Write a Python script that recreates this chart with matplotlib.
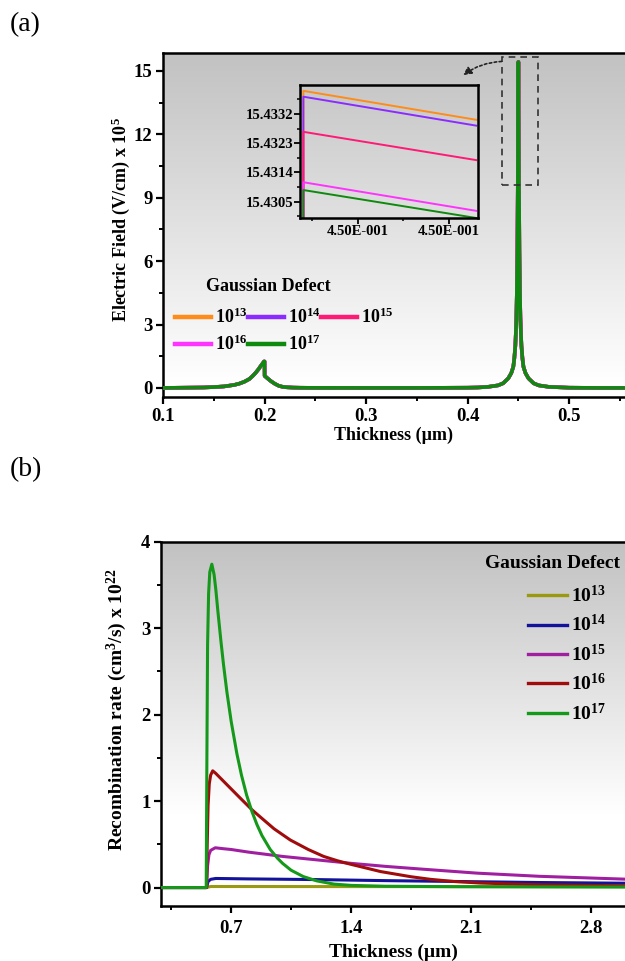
import numpy as np
import matplotlib
matplotlib.use("Agg")
import matplotlib.pyplot as plt
from matplotlib.colors import LinearSegmentedColormap
from matplotlib.patches import Rectangle
from matplotlib.ticker import MultipleLocator, FixedLocator, FuncFormatter

plt.rcParams['font.family'] = ['Liberation Serif', 'DejaVu Serif']
plt.rcParams['font.weight'] = 'bold'
plt.rcParams['mathtext.fontset'] = 'custom'
plt.rcParams['mathtext.rm'] = 'Liberation Serif'
plt.rcParams['mathtext.bf'] = 'Liberation Serif:bold'
plt.rcParams['mathtext.it'] = 'Liberation Serif:italic:bold'

# ---------------- data: panel (a) ----------------
defects = ['13', '14', '15', '16', '17']
colors_a = ['#ff8c1a', '#8c2bff', '#ff1a75', '#ff33ff', '#0e8a0e']

field_x = [0.100, 0.120, 0.140, 0.150, 0.160, 0.170, 0.175, 0.180, 0.185, 0.188,
           0.191, 0.194, 0.196, 0.198, 0.1995, 0.2000, 0.2001, 0.203, 0.206, 0.210,
           0.214, 0.218, 0.222, 0.228, 0.235, 0.250, 0.300, 0.350, 0.400, 0.410,
           0.420, 0.430, 0.435, 0.440, 0.443, 0.445, 0.446, 0.447, 0.4475, 0.448,
           0.4485, 0.449, 0.4495, 0.4500, 0.4505, 0.451, 0.4515, 0.452, 0.4525, 0.453,
           0.454, 0.455, 0.457, 0.460, 0.465, 0.470, 0.480, 0.500, 0.530, 0.555]
field_y = [0.00, 0.01, 0.02, 0.04, 0.07, 0.14, 0.20, 0.29, 0.42, 0.55,
           0.70, 0.88, 1.02, 1.15, 1.25, 1.25, 0.57, 0.45, 0.33, 0.20,
           0.10, 0.05, 0.03, 0.015, 0.008, 0.003, 0.00, 0.00, 0.01, 0.02,
           0.05, 0.12, 0.22, 0.45, 0.70, 1.00, 1.40, 2.00, 2.60, 3.30,
           4.50, 6.50, 10.0, 15.43, 10.0, 6.50, 4.50, 3.30, 2.60, 2.00,
           1.40, 1.00, 0.70, 0.45, 0.22, 0.12, 0.05, 0.01, 0.00, 0.00]

# inset (zoom near the peak)
inset_x = [0.4499994, 0.4499994, 0.4500013]
inset_start = [15.43391, 15.43373, 15.43265, 15.43110, 15.43086]
inset_end = [15.43302, 15.43284, 15.43178, 15.43022, 15.43000]
inset_floor = 15.4290
inset_xticks = [0.450000, 0.450001]
inset_yticks = [15.4305, 15.4314, 15.4323, 15.4332]

# ---------------- data: panel (b) ----------------
colors_b = ['#9a9a12', '#12129a', '#a01fa0', '#a00c0c', '#15991a']
rec_x = {
    '13': [0.29, 0.556, 0.580, 1.5, 3.0],
    '14': [0.29, 0.556, 0.565, 0.580, 0.610, 0.80, 1.20, 1.60, 2.10, 2.50, 3.0],
    '15': [0.29, 0.556, 0.562, 0.570, 0.580, 0.607, 0.650, 0.70, 0.80, 0.90, 1.00,
           1.20, 1.40, 1.60, 1.80, 2.14, 2.50, 3.0],
    '16': [0.29, 0.556, 0.560, 0.565, 0.572, 0.580, 0.592, 0.610, 0.650, 0.70, 0.75,
           0.821, 0.85, 0.95, 1.045, 1.15, 1.24, 1.32, 1.396, 1.50, 1.572, 1.75,
           1.864, 2.00, 2.157, 2.50, 3.0],
    '17': [0.29, 0.554, 0.558, 0.562, 0.568, 0.575, 0.587, 0.600, 0.610, 0.622, 0.640,
           0.655, 0.675, 0.700, 0.733, 0.760, 0.790, 0.821, 0.850, 0.880, 0.928, 0.970,
           1.00, 1.05, 1.121, 1.20, 1.30, 1.40, 1.60, 2.00, 2.50, 3.0],
}
rec_y = {
    '13': [0.0, 0.0, 0.012, 0.011, 0.010],
    '14': [0.0, 0.0, 0.07, 0.095, 0.105, 0.100, 0.092, 0.080, 0.068, 0.058, 0.050],
    '15': [0.0, 0.0, 0.25, 0.38, 0.43, 0.46, 0.45, 0.44, 0.41, 0.385, 0.36,
           0.32, 0.28, 0.245, 0.215, 0.166, 0.13, 0.097],
    '16': [0.0, 0.0, 0.50, 0.95, 1.20, 1.30, 1.35, 1.32, 1.24, 1.14, 1.04,
           0.90, 0.85, 0.68, 0.55, 0.44, 0.36, 0.31, 0.27, 0.22, 0.185, 0.125,
           0.095, 0.07, 0.052, 0.032, 0.02],
    '17': [0.0, 0.0, 1.50, 2.80, 3.40, 3.65, 3.74, 3.62, 3.45, 3.20, 2.85,
           2.58, 2.26, 1.92, 1.55, 1.30, 1.07, 0.88, 0.73, 0.60, 0.44, 0.34,
           0.28, 0.20, 0.127, 0.077, 0.04, 0.025, 0.015, 0.010, 0.008, 0.006],
}
legend_title = 'Gaussian Defect'


def labels_for(ds):
    return [r'10$^{\mathbf{%s}}$' % d for d in ds]


def add_gradient(ax, white_frac, top_gray=0.76):
    cmap = LinearSegmentedColormap.from_list('g', [(1, 1, 1), (top_gray, top_gray, top_gray)])
    t = np.linspace(0, 1, 512)
    v = np.clip((t - white_frac) / (1 - white_frac), 0, 1)
    ax.imshow(v[:, None], cmap=cmap, vmin=0, vmax=1, aspect='auto', origin='lower',
              extent=[0, 1, 0, 1], transform=ax.transAxes, zorder=0,
              interpolation='bilinear')


def style_axes(ax, size=13.5, xpad=2.5):
    for s in ['left', 'bottom', 'top', 'right']:
        ax.spines[s].set_linewidth(1.8)
    ax.spines['right'].set_visible(False)
    ax.tick_params(which='major', direction='out', length=5, width=1.6,
                   labelsize=size, pad=2.5)
    ax.tick_params(axis='x', which='major', pad=xpad)
    ax.tick_params(which='minor', direction='out', length=3, width=1.4)
    ax.tick_params(top=False, right=False)
    for lab in ax.get_xticklabels() + ax.get_yticklabels():
        lab.set_fontweight('bold')


W, H = 625, 961
fig = plt.figure(figsize=(W / 100, H / 100), dpi=100)

# ================= panel (a) =================
axa = fig.add_axes([163 / W, 1 - 397 / H, 1 - 163 / W, (397 - 53) / H])
axa.set_facecolor('white')
add_gradient(axa, 0.04)
for c, d in zip(colors_a, defects):
    axa.plot(field_x, field_y, color=c, lw=2.6, label=labels_for([d])[0], zorder=3)
axa.set_xlim(0.1, 0.555)
axa.set_ylim(-0.43, 15.85)
axa.xaxis.set_major_locator(MultipleLocator(0.1))
axa.xaxis.set_minor_locator(MultipleLocator(0.05))
axa.yaxis.set_major_locator(MultipleLocator(3))
axa.yaxis.set_minor_locator(MultipleLocator(1.5))
axa.xaxis.set_major_formatter(FuncFormatter(lambda v, p: f'{v:.1f}'))
axa.yaxis.set_major_formatter(FuncFormatter(lambda v, p: f'{v:.0f}'))
style_axes(axa, xpad=3)
axa.set_xlabel('Thickness (µm)', fontsize=13, fontweight='bold', labelpad=1)
axa.set_ylabel(r'Electric Field (V/cm) x 10$^{\mathbf{5}}$', fontsize=13,
               fontweight='bold')
axa.yaxis.set_label_coords(-0.068, 0.517)

# legend (a), entries ordered so that rows read 13,14,15 / 16,17
fig.text(206 / W, 1 - 286.7 / H, legend_title, fontsize=13, fontweight='bold',
         ha='left', va='center')
h, l = axa.get_legend_handles_labels()
order = [0, 3, 1, 4, 2]
leg_a = axa.legend([h[i] for i in order], [l[i] for i in order], ncol=3,
                   loc='upper left', bbox_to_anchor=(175 / W, 1 - 308 / H),
                   bbox_transform=fig.transFigure, frameon=False,
                   prop={'weight': 'bold', 'size': 13},
                   handlelength=2.0, handletextpad=0.2, columnspacing=0.05,
                   labelspacing=0.4, borderpad=0, borderaxespad=0)
for line in leg_a.get_lines():
    line.set_linewidth(3.2)

# dashed box around the peak and a dotted arrow to the inset
axa.add_patch(Rectangle((0.4337, 9.61), 0.4698 - 0.4337, 15.65 - 9.61, fill=False,
                        ls=(0, (4, 3)), lw=1.2, ec='#333333', zorder=4))
axa.annotate('', xy=(0.3956, 14.80), xytext=(0.4335, 15.45),
             arrowprops=dict(arrowstyle='-|>', color='#222222', lw=1.2,
                             ls=(0, (1.5, 1.5)), connectionstyle='arc3,rad=0.15',
                             mutation_scale=12, shrinkA=0, shrinkB=0), zorder=5)

# inset
axi = fig.add_axes([300 / W, 1 - 218 / H, 178 / W, 133 / H])
axi.set_facecolor('none')
for c, s, e in zip(colors_a, inset_start, inset_end):
    axi.plot(inset_x, [inset_floor, s, e], color=c, lw=1.4)
axi.set_xlim(0.45 - 0.637e-6, 0.45 + 1.319e-6)
axi.set_ylim(15.43000, 15.43409)
axi.xaxis.set_major_locator(FixedLocator(inset_xticks))
axi.xaxis.set_minor_locator(FixedLocator([0.45 - 0.5e-6, 0.45 + 0.5e-6]))
axi.yaxis.set_major_locator(FixedLocator(inset_yticks))
axi.yaxis.set_minor_locator(FixedLocator([15.43005, 15.43095, 15.43185, 15.43275, 15.43365]))
axi.xaxis.set_major_formatter(FuncFormatter(
    lambda v, p: f'{v:.2E}'.replace('E-0', 'E-00')))
axi.yaxis.set_major_formatter(FuncFormatter(lambda v, p: f'{v:.4f}'))
for s in ['left', 'bottom', 'top', 'right']:
    axi.spines[s].set_linewidth(1.8)
axi.tick_params(which='major', direction='out', length=4, width=1.3, labelsize=10.5, pad=1)
axi.tick_params(which='minor', direction='out', length=2.5, width=1.1)
for lab in axi.get_xticklabels() + axi.get_yticklabels():
    lab.set_fontweight('bold')

# ================= panel (b) =================
axb = fig.add_axes([161 / W, 1 - 905.7 / H, 1 - 161 / W, (905.7 - 541.7) / H])
axb.set_facecolor('white')
add_gradient(axb, 0.25)
for c, d in zip(colors_b, defects):
    axb.plot(rec_x[d], rec_y[d], color=c, lw=2.2, label=labels_for([d])[0], zorder=3)
axb.set_xlim(0.29, 3.0)
axb.set_ylim(-0.21, 4.0)
axb.xaxis.set_major_locator(MultipleLocator(0.7))
axb.xaxis.set_minor_locator(MultipleLocator(0.35))
axb.yaxis.set_major_locator(MultipleLocator(1))
axb.yaxis.set_minor_locator(MultipleLocator(0.5))
axb.xaxis.set_major_formatter(FuncFormatter(lambda v, p: f'{v:.1f}'))
axb.yaxis.set_major_formatter(FuncFormatter(lambda v, p: f'{v:.0f}'))
style_axes(axb, xpad=5)
axb.set_xlabel('Thickness (µm)', fontsize=14, fontweight='bold', labelpad=5)
axb.set_ylabel(r'Recombination rate (cm$^{\mathbf{3}}$/s) x 10$^{\mathbf{22}}$',
               fontsize=14, fontweight='bold')
axb.yaxis.set_label_coords(-0.07, 0.538)

fig.text(620 / W, 1 - 563 / H, legend_title, fontsize=14, fontweight='bold',
         ha='right', va='center')
leg_b = axb.legend(loc='upper left', bbox_to_anchor=(528 / W, 1 - 585 / H),
                   bbox_transform=fig.transFigure, frameon=False,
                   prop={'weight': 'bold', 'size': 14},
                   handlelength=2.0, handletextpad=0.2, labelspacing=0.42,
                   borderpad=0, borderaxespad=0)
for line in leg_b.get_lines():
    line.set_linewidth(2.4)

# panel labels
fig.text(10 / W, 1 - 25 / H, '(a)', fontsize=20, fontweight='normal', va='center', ha='left')
fig.text(10 / W, 1 - 470 / H, '(b)', fontsize=20, fontweight='normal', va='center', ha='left')

fig.savefig('out.png', dpi=100)
